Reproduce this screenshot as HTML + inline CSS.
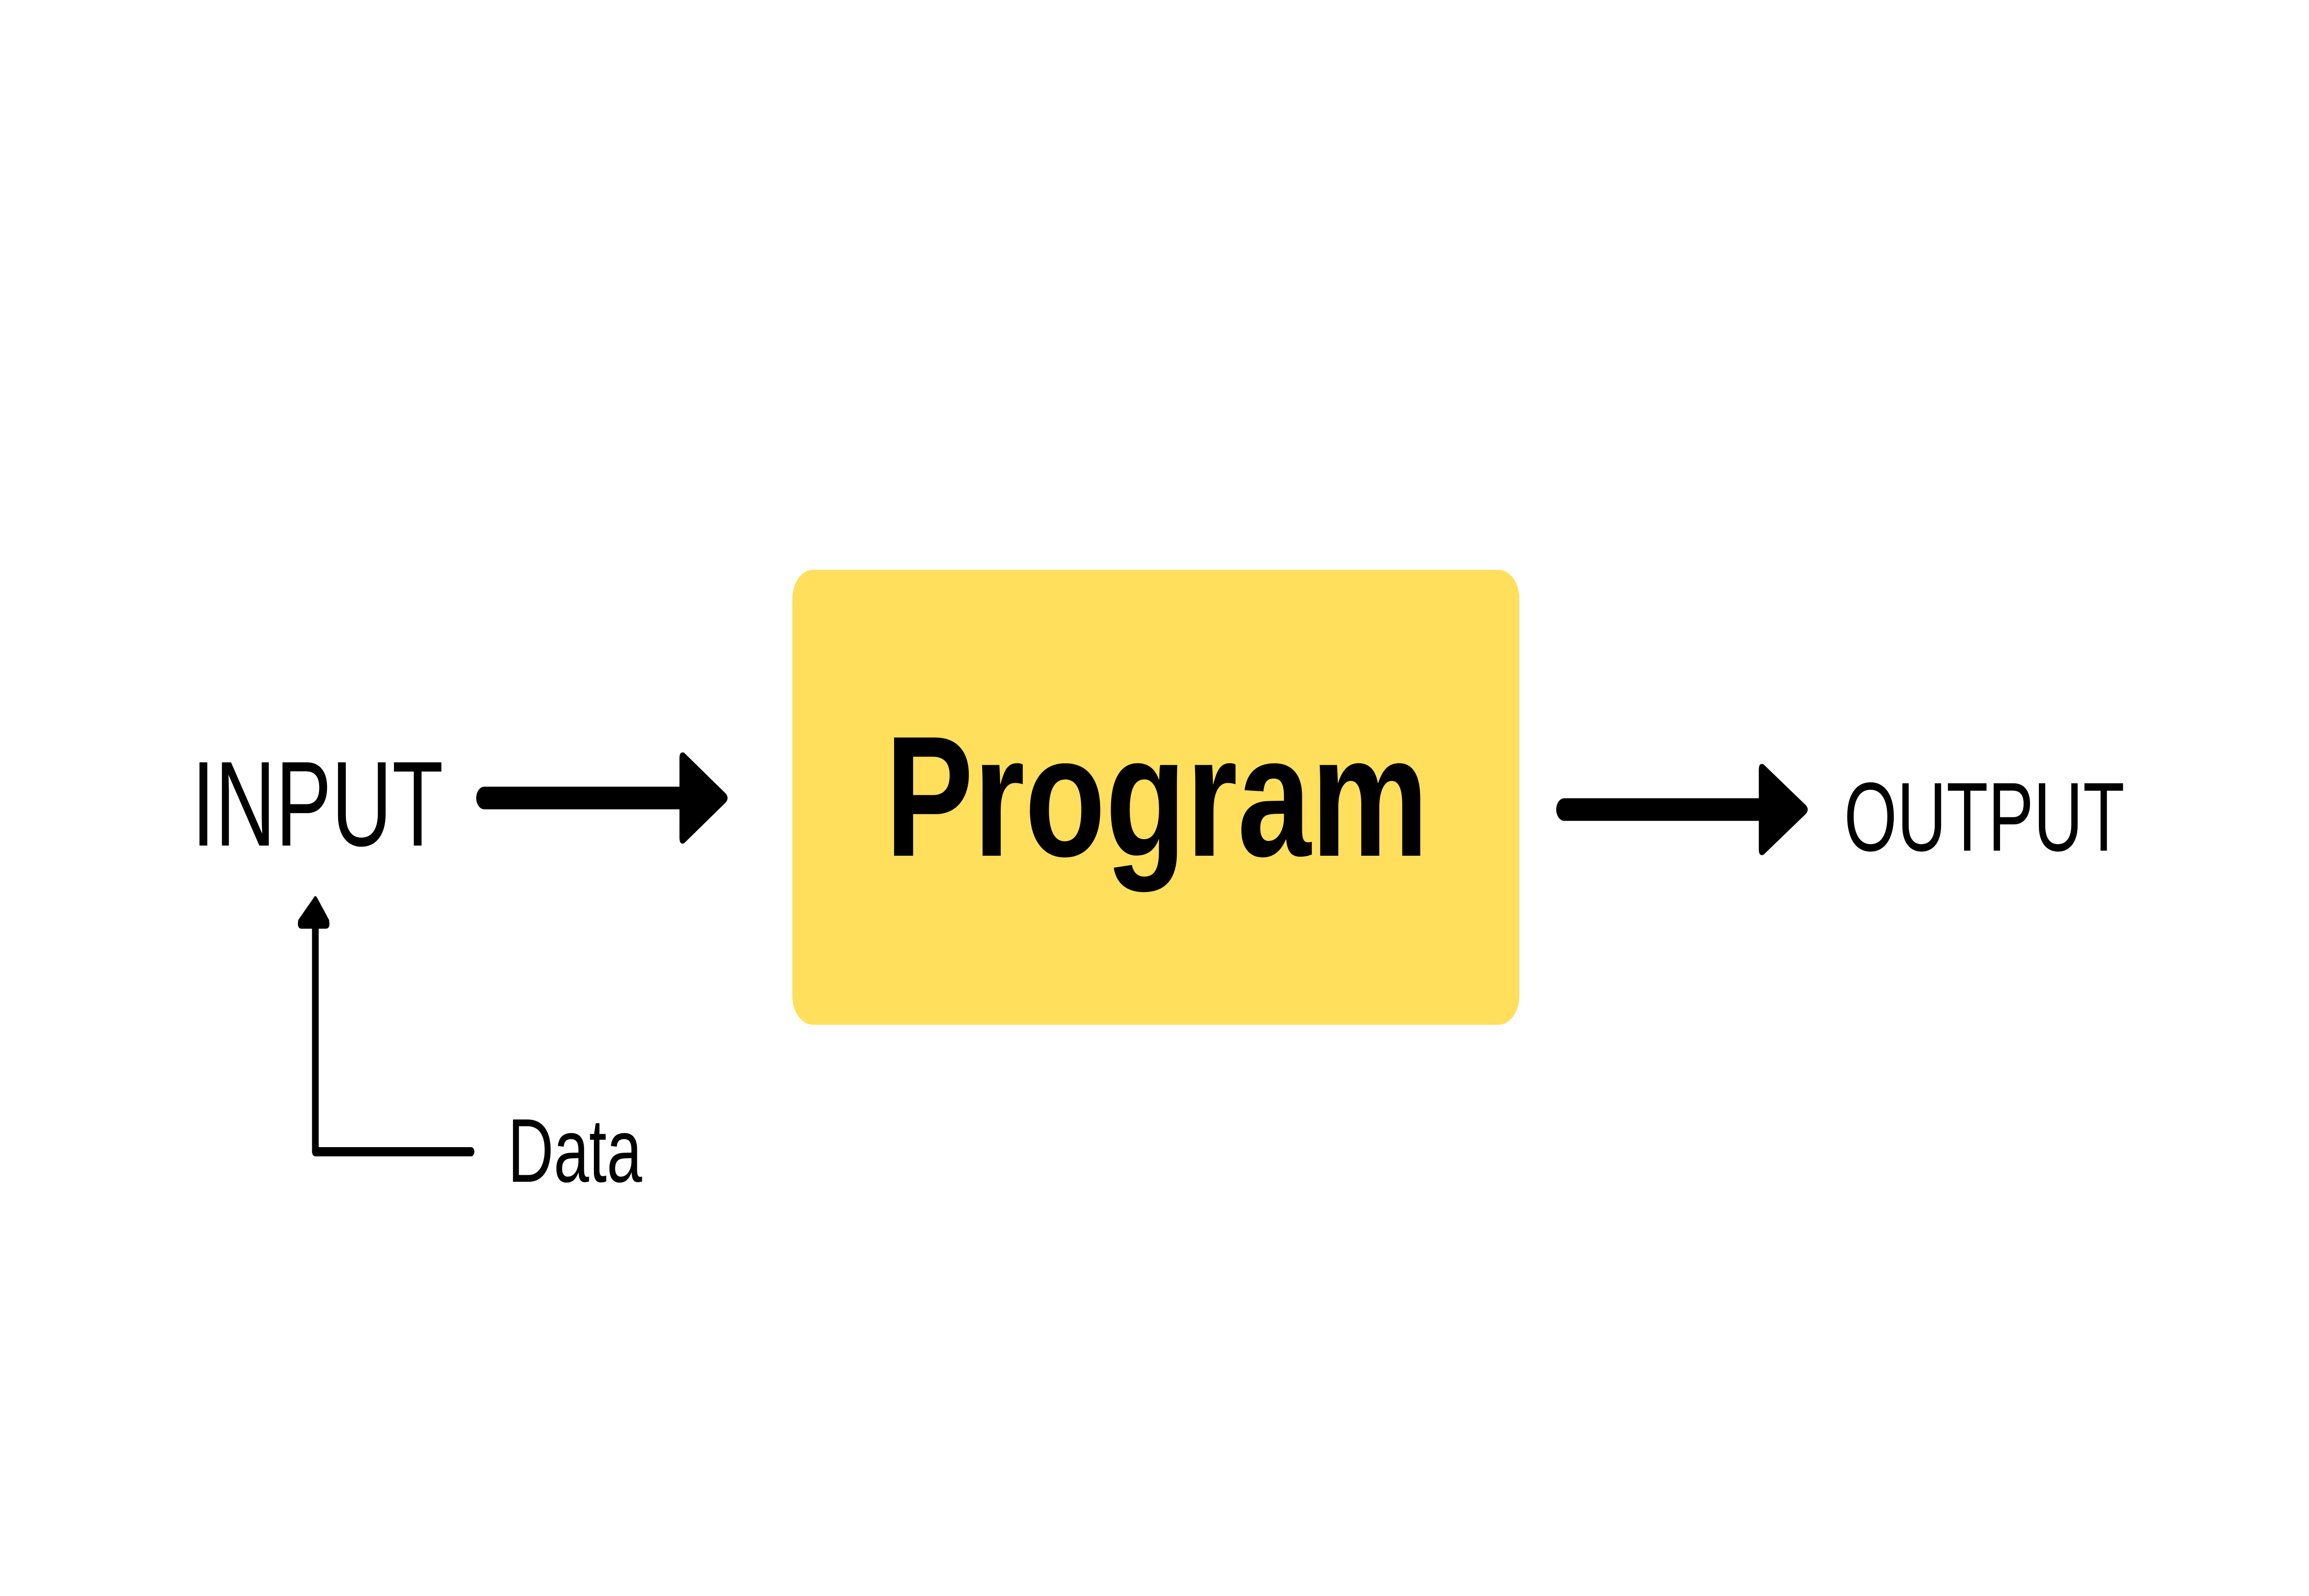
<!DOCTYPE html>
<html><head><meta charset="utf-8"><style>html,body{margin:0;padding:0;background:#fff;width:100%;height:100%;overflow:hidden}svg{display:block;width:100vw;height:100vh}</style></head>
<body>
<svg viewBox="0 0 6912 3456" preserveAspectRatio="none" xmlns="http://www.w3.org/2000/svg">
<rect width="6912" height="3456" fill="#fff"/>
<rect x="2372" y="1234" width="2176" height="985" rx="62" fill="#FFDF5B"/>
<text x="2650" y="1853" font-family="Liberation Sans, sans-serif" font-weight="bold" font-size="372" textLength="1626" lengthAdjust="spacingAndGlyphs">Program</text>
<text x="574" y="1831" font-family="Liberation Sans, sans-serif" font-size="262" textLength="753" lengthAdjust="spacingAndGlyphs">INPUT</text>
<text x="5520" y="1842" font-family="Liberation Sans, sans-serif" font-size="212" textLength="840" lengthAdjust="spacingAndGlyphs">OUTPUT</text>
<text x="1520" y="2559" font-family="Liberation Sans, sans-serif" font-size="196" textLength="402" lengthAdjust="spacingAndGlyphs">Data</text>
<line x1="1450" y1="1728" x2="2040" y2="1728" stroke="#000" stroke-width="49" stroke-linecap="round"/>
<path d="M2034 1642 Q2034 1626 2048 1630 L2172 1718 Q2184 1728 2172 1738 L2048 1826 Q2034 1830 2034 1814 Z" fill="#000"/>
<line x1="4683" y1="1753" x2="5270" y2="1753" stroke="#000" stroke-width="49" stroke-linecap="round"/>
<path d="M5265 1667 Q5265 1651 5279 1655 L5405 1743 Q5418 1753 5405 1763 L5279 1851 Q5265 1855 5265 1839 Z" fill="#000"/>
<polyline points="944,2000 944,2494 1410,2494" fill="none" stroke="#000" stroke-width="20" stroke-linecap="round" stroke-linejoin="round"/>
<path d="M938 1945 Q944 1936 950 1945 L985 1992 Q990 2011 975 2011 L903 2011 Q888 2011 893 1992 Z" fill="#000"/>
</svg>
</body></html>
